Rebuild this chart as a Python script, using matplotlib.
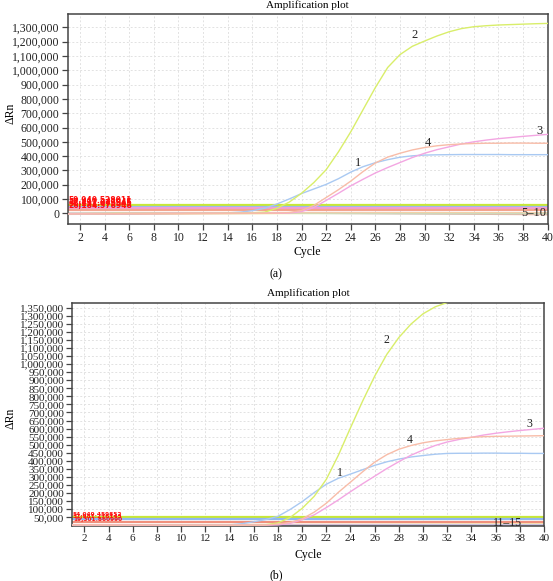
import matplotlib.pyplot as plt
from matplotlib.ticker import FuncFormatter

# figure is 553 x 581 px
W, H = 553, 581

cycles = list(range(1, 41))

# ---- panel (a): delta Rn (thousands) read per cycle ----
a_curve1 = [-4, -3, -3, -2, -2, -2, -1, -1, -1, 0, 0, 1, 1, 3, 8, 18, 35, 65, 100, 138,
            170, 202, 242, 288, 326, 354, 375, 392, 402, 407, 409, 410, 411, 411, 411, 411, 410, 410, 410, 410]
a_curve2 = [-2, -2, -1, -1, 0, 0, 0, 0, 0, 0, 1, 1, 1, 2, 2, 3, 8, 35, 78, 140,
            215, 305, 430, 570, 725, 880, 1020, 1110, 1168, 1205, 1240, 1270, 1292, 1305, 1312, 1317, 1320, 1323, 1326, 1328]
a_curve3 = [-3, -3, -2, -2, -2, -1, -1, -1, 0, 0, 0, 0, 0, 0, 0, 0, 0, 0, 2, 12,
            40, 90, 140, 192, 238, 282, 320, 355, 390, 420, 445, 465, 485, 500, 512, 522, 530, 538, 545, 552]
a_curve4 = [-5, -4, -4, -3, -3, -2, -2, -1, -1, -1, 0, 0, 0, 0, 0, 0, 0, 1, 5, 20,
            55, 110, 165, 225, 292, 352, 393, 420, 443, 460, 472, 480, 485, 488, 490, 490, 491, 491, 490, 490]
a_curve_labels = ['1', '2', '3', '4']
a_label_pos = [(24.6, 352), (29.2, 1245), (39.3, 575), (30.3, 490)]

# negative controls 5-10, read at a few cycles
neg_cycles = [1, 10, 20, 30, 40]
a_neg = [[2, 3, 5, 5, 4],
         [-3, -2, 0, 1, 2],
         [-5, -3, -2, 0, -2],
         [-8, -4, 0, -5, -10],
         [0, 1, -1, -3, -3],
         [-2, 0, 2, 3, 3]]
a_neg_text = ('5–10', 38.9, 2)

a_thresholds = [59.94, 47.4, 36.2, 26.2]
a_thr_text = ['59,940.528011', '47,412.343945', '36,231.073545', '26,184.578948']

# ---- panel (b) ----
b_curve1 = [1, 1, 1, 1, 0, 0, 0, 0, 0, 0, 0, 1, 1, 3, 10, 22, 36, 56, 98, 147,
            203, 255, 292, 318, 345, 372, 394, 411, 424, 433, 441, 446, 447, 447, 448, 448, 447, 447, 446, 446]
b_curve2 = [2, 2, 2, 1, 1, 1, 1, 1, 1, 1, 1, 1, 1, 1, 1, 2, 4, 15, 48, 105,
            180, 285, 435, 605, 770, 925, 1060, 1165, 1248, 1312, 1355, 1382, 1400, 1411, 1418, 1422, 1425, 1428, 1430, 1432]
b_curve3 = [2, 2, 2, 2, 2, 1, 1, 1, 1, 1, 1, 1, 1, 1, 1, 1, 1, 3, 12, 35,
            65, 110, 158, 209, 258, 305, 352, 395, 435, 467, 495, 517, 533, 546, 560, 571, 580, 588, 595, 602]
b_curve4 = [3, 3, 3, 2, 2, 2, 2, 2, 2, 1, 1, 1, 1, 1, 1, 1, 2, 8, 18, 40,
            82, 137, 205, 268, 332, 392, 438, 472, 495, 512, 524, 532, 540, 546, 550, 552, 553, 554, 555, 556]
b_curve_labels = ['1', '2', '3', '4']
b_label_pos = [(23.1, 323), (27.0, 1150), (38.8, 630), (28.9, 529)]

b_neg = [[3, 3, 4, 5, 6],
         [2, 2, 1, 0, -1],
         [4, 5, 6, 7, 8],
         [1, 1, 2, 3, 3],
         [0, 1, 1, 2, 2]]
b_neg_text = ('11–15', 37.0, 12)

b_thresholds = [54.0, 38.0, 19.3]
b_thr_text = ['54,049.459852', '37,981.276143', '19,301.860990']

curve_colors = ['#a9c9f2', '#d9ee6a', '#f3a6e2', '#f8bca8']
neg_colors_a = ['#f4a9d8', '#b3d1f4', '#ecf28f', '#f6ae9a', '#a5e0d9', '#f9d39f']
neg_colors_b = ['#cfe65a', '#f4a594', '#f8cf9c', '#f2a8d8', '#b3d1f4']
thr_colors_a = ['#c8e836', '#96bdf0', '#f39fd4', '#f4a48e']
thr_colors_b = ['#c8e836', '#8fb8f0', '#f0907c']

serif = 'Liberation Serif'
plt.rcParams['font.family'] = serif


def rect(l, r, t, b):
    return [l / W, 1 - b / H, (r - l) / W, (b - t) / H]


def fx(x):
    return x / W


def fy(y):
    return 1 - y / H


def draw_panel(ax, curves, labels, label_pos, negs, neg_colors, neg_text,
               thresholds, thr_text, thr_colors, thr_size, yticks, ylim, fs):
    ax.set_xlim(1, 40)
    ax.set_ylim(*ylim)
    ax.set_xticks(range(2, 41, 2))
    ax.set_yticks(yticks)
    ax.yaxis.set_major_formatter(FuncFormatter(lambda v, p: f'{int(round(v)):,}'))
    ax.grid(True, color='#e2e2e2', linestyle=(0, (2, 2)), linewidth=0.7)
    ax.set_axisbelow(True)
    for sp in ax.spines.values():
        sp.set_color('#444444')
        sp.set_linewidth(1.1)
    ax.tick_params(direction='out', length=4, width=0.9, color='#444444',
                   labelsize=fs, pad=2, labelcolor='#222222')

    for thr, col in zip(thresholds, thr_colors):
        ax.axhline(thr * 1000, color=col, linewidth=1.6, zorder=2)
    for vals, col in zip(negs, neg_colors):
        ax.plot(neg_cycles, [v * 1000 for v in vals], color=col, linewidth=0.9, zorder=2)
    for vals, col in zip(curves, curve_colors):
        ax.plot(cycles, [v * 1000 for v in vals], color=col, linewidth=1.0, zorder=3)

    for lab, (cx, cy) in zip(labels, label_pos):
        ax.text(cx, cy * 1000, lab, fontsize=fs + 0.5, ha='center', va='center', color='#222222')
    ax.text(neg_text[1], neg_text[2] * 1000, neg_text[0], fontsize=fs + 0.5,
            ha='center', va='center', color='#222222', zorder=5)

    # threshold values printed on top of each other, as in the instrument export
    for thr, txt in zip(thresholds, thr_text):
        ax.text(1.05, thr * 1000, txt, fontsize=thr_size, color='#ff1010',
                fontweight='bold', family='DejaVu Sans', ha='left', va='bottom', zorder=6)


fig = plt.figure(figsize=(W / 100, H / 100), dpi=100)

# panel (a)
ax1 = fig.add_axes(rect(67.7, 547.7, 14, 224))
draw_panel(ax1, [a_curve1, a_curve2, a_curve3, a_curve4], a_curve_labels, a_label_pos,
           a_neg, neg_colors_a, a_neg_text, a_thresholds, a_thr_text, thr_colors_a, 5.5,
           list(range(0, 1300001, 100000)), (-75000, 1394000), 8.5)
fig.text(fx(307.7), fy(5), 'Amplification plot', fontsize=8, ha='center', va='center')
fig.text(fx(307.7), fy(252), 'Cycle', fontsize=8.5, ha='center', va='center')
fig.text(fx(10), fy(113), 'ΔRn', fontsize=8.5, rotation=90, ha='center', va='center')
fig.text(fx(276), fy(274), '(a)', fontsize=8.5, ha='center', va='center')

# panel (b)
ax2 = fig.add_axes(rect(72.3, 544, 303.3, 526))
draw_panel(ax2, [b_curve1, b_curve2, b_curve3, b_curve4], b_curve_labels, b_label_pos,
           b_neg, neg_colors_b, b_neg_text, b_thresholds, b_thr_text, thr_colors_b, 4.2,
           list(range(50000, 1350001, 50000)), (-4000, 1377000), 8)
fig.text(fx(308), fy(293.3), 'Amplification plot', fontsize=8, ha='center', va='center')
fig.text(fx(308), fy(555), 'Cycle', fontsize=8.5, ha='center', va='center')
fig.text(fx(10), fy(418), 'ΔRn', fontsize=8.5, rotation=90, ha='center', va='center')
fig.text(fx(276), fy(575), '(b)', fontsize=8.5, ha='center', va='center')

fig.savefig('out.png', dpi=100)
